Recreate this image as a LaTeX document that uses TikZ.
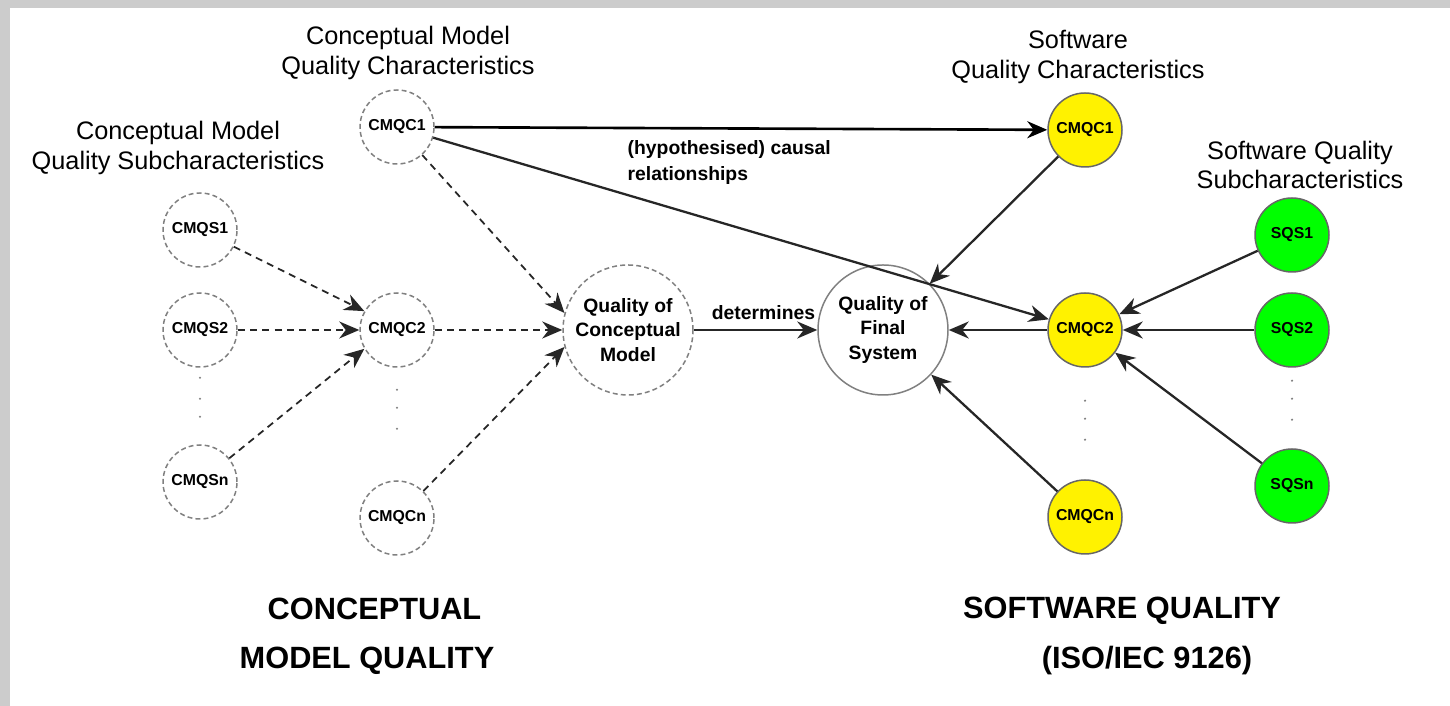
\documentclass[tikz,border=0pt]{standalone}
\usepackage{fontspec}
\setmainfont{Liberation Sans}
\usetikzlibrary{positioning,arrows.meta}

\begin{document}
\begin{tikzpicture}[node distance={20mm}, thick,
    cmnode/.style = {draw=gray, circle, dash pattern=on 2.8pt off 1.8pt, line width=0.85pt, minimum size=14.8mm, inner sep=0pt, font=\fontsize{9}{10}\selectfont\bfseries},
    cmbig/.style = {cmnode, minimum size=26mm, align=center, font=\fontsize{11}{14}\selectfont\bfseries},
    swc/.style = {cmnode, solid, fill=yellow, draw=black!60},
    sws/.style = {cmnode, solid, fill=green, draw=black!60},
    heading/.style = {align=center, font=\fontsize{14.4}{17}\selectfont},
    area/.style = {align=center, font=\fontsize{17.5}{28}\selectfont\bfseries},
    arr/.style = {-{Stealth[length=4mm, width=3.4mm]}, draw=black!85, line width=1.3pt},
    darr/.style = {arr, line width=1pt, dash pattern=on 4pt off 3pt}]
  % frame
  \useasboundingbox (0,0) rectangle (29,14.12);
  \fill[black!20] (0,0) rectangle (29,14.12);
  \fill[white] (0.2,0) rectangle (29,13.96);
  % conceptual model quality
  \node[cmnode] (CMQC1) at (7.94,11.58) {CMQC1};
  \node[cmnode] (CMQS1) at (4.00,9.52) {CMQS1};
  \node[cmnode] (CMQS2) [below of=CMQS1] {CMQS2};
  \node[cmnode] (CMQSn) [below of=CMQS2, node distance=30.4mm] {CMQSn};
  \node[cmnode] (CMQC2) [right of=CMQS2, node distance=39.4mm] {CMQC2};
  \node[cmnode] (CMQCn) [below of=CMQC2, node distance=37.6mm] {CMQCn};
  \node[cmbig] (QCM) [right of=CMQC2, node distance=46.2mm] {Quality of\\Conceptual\\Model};
  % software quality
  \node[cmbig, solid] (QFS) [right of=QCM, node distance=51mm] {Quality of\\Final\\System};
  \node[swc] (SWC2) [right of=QFS, node distance=40.4mm] {CMQC2};
  \node[swc] (SWC1) [above of=SWC2, node distance=40mm] {CMQC1};
  \node[swc] (SWCn) [below of=SWC2, node distance=37.4mm] {CMQCn};
  \node[sws] (SQS2) [right of=SWC2, node distance=41.4mm] {SQS2};
  \node[sws] (SQS1) [above of=SQS2, node distance=19mm] {SQS1};
  \node[sws] (SQSn) [below of=SQS2, node distance=31.2mm] {SQSn};
  % headings
  \node[heading] (hCMQC) [above of=CMQC1, node distance=14.8mm, xshift=2.2mm] {Conceptual Model\\Quality Characteristics};
  \node[heading] (hCMQS) [above of=CMQS1, node distance=16.4mm, xshift=-4.4mm] {Conceptual Model\\Quality Subcharacteristics};
  \node[heading] (hSWC) [above of=SWC1, node distance=14.6mm, xshift=-1.4mm] {Software\\Quality Characteristics};
  \node[heading] (hSQS) [above of=SQS1, node distance=14mm, xshift=1.6mm] {Software Quality\\Subcharacteristics};
  \node[area] (cmq) at (7.34,1.40) {\hspace*{3mm}CONCEPTUAL\\MODEL QUALITY};
  \node[area] (sq) at (22.44,1.40) {SOFTWARE QUALITY\\\hspace*{10mm}(ISO/IEC 9126)};
  \node (causal) [align=left, anchor=north west, inner sep=0pt, font=\fontsize{11}{14.5}\selectfont\bfseries] at (12.54,11.32) {(hypothesised) causal\\relationships};
  % dots
  \foreach \d in {2,6.2,9.8} \fill[gray] ([yshift=-\d*1mm]CMQS2.south) circle (0.7pt);
  \foreach \d in {4.4,8,12.2} \fill[gray] ([yshift=-\d*1mm]CMQC2.south) circle (0.7pt);
  \foreach \d in {6.6,10.2,14.4} \fill[gray] ([yshift=-\d*1mm]SWC2.south) circle (0.7pt);
  \foreach \d in {2.6,6.2,10.4} \fill[gray] ([yshift=-\d*1mm]SQS2.south) circle (0.7pt);
  % connectors
  \draw[arr, line width=1.5pt, draw=black] (CMQC1) -- (SWC1);
  \draw[arr] (CMQC1) -- (SWC2);
  \draw[darr] (CMQC1) -- (QCM.165);
  \draw[darr] (CMQS1) -- (CMQC2.150);
  \draw[darr] (CMQS2) -- (CMQC2);
  \draw[darr] (CMQSn) -- (CMQC2.210);
  \draw[darr] (CMQC2) -- (QCM);
  \draw[darr] (CMQCn) -- (QCM.195);
  \draw[arr] (QCM) -- node[above, xshift=1.6mm, yshift=2pt, font=\fontsize{11}{13}\selectfont\bfseries] {determines} (QFS);
  \draw[arr] (SWC1) -- (QFS);
  \draw[arr] (SWC2) -- (QFS);
  \draw[arr] (SWCn) -- (QFS);
  \draw[arr] (SQS1) -- (SWC2);
  \draw[arr] (SQS2) -- (SWC2);
  \draw[arr] (SQSn) -- (SWC2);
\end{tikzpicture}
\end{document}
